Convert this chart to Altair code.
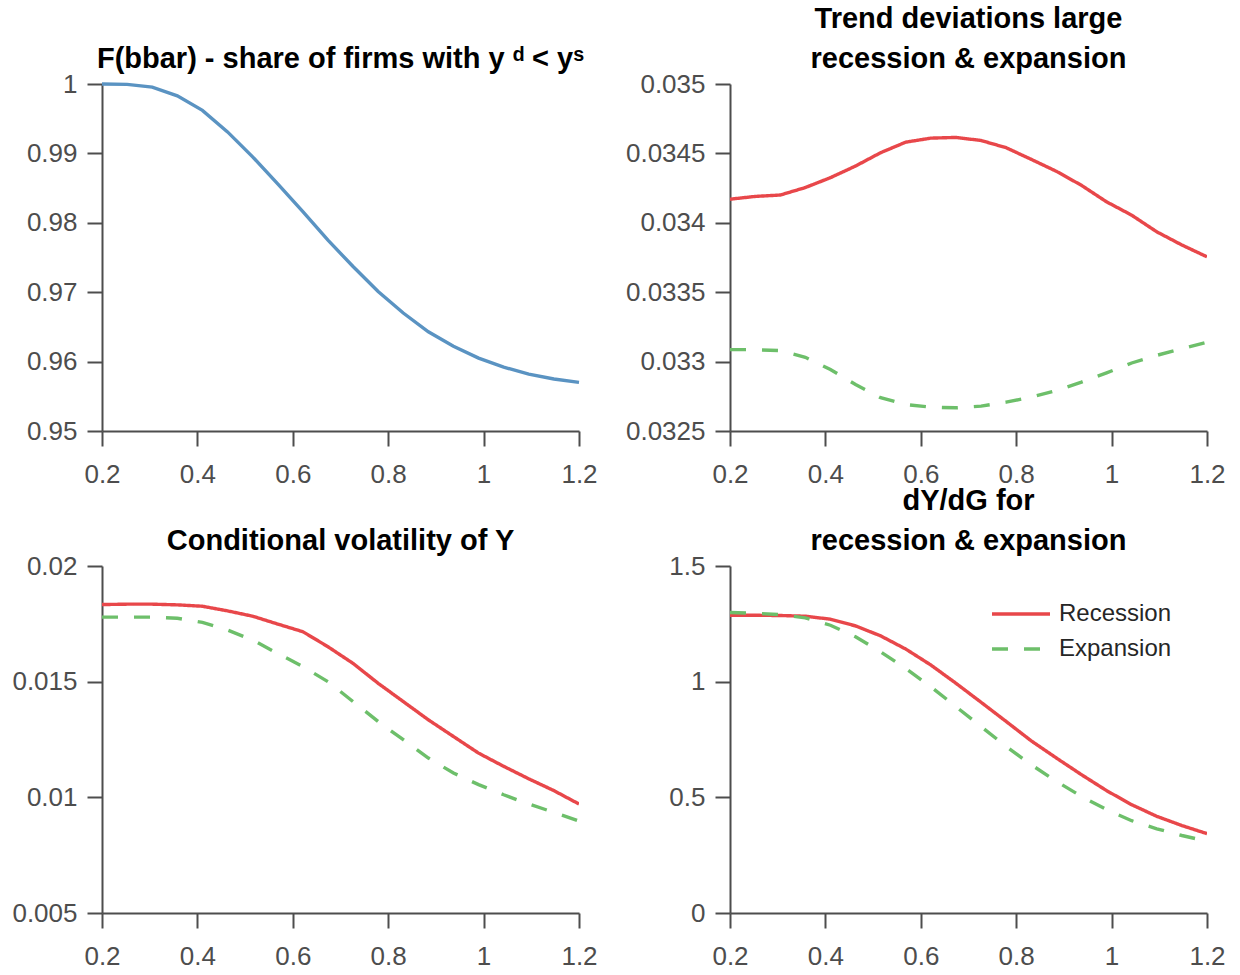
import altair as alt
import pandas as pd

# Grid of the parameter on the horizontal axis (20 points from 0.2 to 1.2)
x_grid = [0.2, 0.2526, 0.3053, 0.3579, 0.4105, 0.4632, 0.5158, 0.5684, 0.6211, 0.6737,
          0.7263, 0.7789, 0.8316, 0.8842, 0.9368, 0.9895, 1.0421, 1.0947, 1.1474, 1.2]

# F(bbar): share of firms with y^d < y^s
share_firms = [1.0, 0.99995, 0.99955, 0.9983, 0.9962, 0.9931, 0.9895, 0.9856, 0.9816, 0.9775,
               0.9737, 0.9701, 0.9670, 0.9643, 0.9622, 0.9605, 0.9592, 0.9582, 0.9575, 0.9570]

# Trend deviations, large recession & expansion
trend_rec = [0.03417, 0.03419, 0.03420, 0.034254, 0.034325, 0.034409, 0.034505, 0.034581, 0.03461, 0.034615,
             0.034593, 0.034541, 0.034457, 0.034371, 0.03427, 0.034151, 0.034055, 0.033935, 0.03384, 0.033755]
trend_exp = [0.033086, 0.033086, 0.033079, 0.033031, 0.032943, 0.032835, 0.03274, 0.032691, 0.032672, 0.032667,
             0.032679, 0.032708, 0.032744, 0.032792, 0.032852, 0.032919, 0.03299, 0.033045, 0.033093, 0.03314]

# Conditional volatility of Y
vol_rec = [0.018333, 0.01835, 0.01835, 0.01832, 0.01826, 0.01806, 0.01783, 0.01749, 0.01716, 0.01651,
           0.01579, 0.01493, 0.01414, 0.01335, 0.01263, 0.01191, 0.01134, 0.01080, 0.01029, 0.00971]
vol_exp = [0.01779, 0.01779, 0.01779, 0.01774, 0.01756, 0.01723, 0.01680, 0.01622, 0.01565, 0.01500,
           0.01414, 0.01328, 0.01249, 0.01170, 0.01105, 0.01055, 0.01011, 0.00971, 0.00935, 0.00897]

# dY/dG for recession & expansion
mult_rec = [1.287, 1.287, 1.286, 1.283, 1.270, 1.241, 1.198, 1.141, 1.072, 0.993,
            0.911, 0.828, 0.744, 0.670, 0.598, 0.529, 0.468, 0.418, 0.378, 0.343]
mult_exp = [1.299, 1.296, 1.290, 1.276, 1.244, 1.194, 1.129, 1.057, 0.978, 0.892,
            0.806, 0.720, 0.641, 0.569, 0.504, 0.447, 0.399, 0.364, 0.335, 0.310]

series_names = ["Recession", "Expansion"]
series_colors = ["#e8474a", "#6dbf6a"]
series_dashes = [[1, 0], [16, 16]]

x_ticks = [0.2, 0.4, 0.6, 0.8, 1.0, 1.2]

FONT = "Liberation Sans"
AXIS_COLOR = "#4d4d4d"
W, H = 477, 347
LINE_W = 3.4


def long_frame(rec, exp):
    return pd.DataFrame({
        "x": x_grid + x_grid,
        "y": rec + exp,
        "series": ["Recession"] * len(rec) + ["Expansion"] * len(exp),
    })


def x_enc():
    return alt.X("x:Q", scale=alt.Scale(domain=[0.2, 1.2], nice=False, zero=False),
                 axis=alt.Axis(values=x_ticks, format="~g", title=None,
                               labelFlush=False, labelOverlap=False))


def y_enc(domain, ticks):
    return alt.Y("y:Q", scale=alt.Scale(domain=domain, nice=False, zero=False),
                 axis=alt.Axis(values=ticks, format="~g", title=None,
                               labelFlush=False, labelOverlap=False))


def title(lines):
    return alt.TitleParams(lines, font=FONT, fontSize=29, fontWeight="bold", color="black",
                           anchor="middle", offset=-3, lineHeight=40)


def two_series(df, domain, ticks, ttl, legend=None):
    color_kw = {"legend": legend} if legend is not None else {"legend": None}
    return alt.Chart(df).mark_line(strokeWidth=LINE_W, clip=True).encode(
        x=x_enc(),
        y=y_enc(domain, ticks),
        color=alt.Color("series:N", sort=series_names,
                        scale=alt.Scale(domain=series_names, range=series_colors), **color_kw),
        strokeDash=alt.StrokeDash("series:N", sort=series_names,
                                  scale=alt.Scale(domain=series_names, range=series_dashes), **color_kw),
        detail="series:N",
    ).properties(width=W, height=H, title=title(ttl))


share_df = pd.DataFrame({"x": x_grid, "y": share_firms})
panel_share = alt.Chart(share_df).mark_line(strokeWidth=LINE_W, color="#5a93c2").encode(
    x=x_enc(),
    y=y_enc([0.95, 1.0], [0.95, 0.96, 0.97, 0.98, 0.99, 1.0]),
).properties(width=W, height=H,
             title=title("F(bbar) - share of firms with y \u1D48 < y\u02E2"))

panel_trend = two_series(long_frame(trend_rec, trend_exp), [0.0325, 0.035],
                         [0.0325, 0.033, 0.0335, 0.034, 0.0345, 0.035],
                         ["Trend deviations large", "recession & expansion"])

panel_vol = two_series(long_frame(vol_rec, vol_exp), [0.005, 0.02],
                       [0.005, 0.01, 0.015, 0.02],
                       "Conditional volatility of Y")

# Legend line samples: a long horizontal stroke ending just left of the label
legend = alt.Legend(title=None, orient="none", legendX=298, legendY=36, padding=0,
                    symbolType="M-4.8,0H1", symbolSize=400, symbolStrokeWidth=LINE_W,
                    symbolFillColor="transparent",
                    labelFont=FONT, labelFontSize=24, labelColor="#262626",
                    labelOffset=7, rowPadding=11)
panel_mult = two_series(long_frame(mult_rec, mult_exp), [0, 1.5],
                        [0, 0.5, 1, 1.5],
                        ["dY/dG for", "recession & expansion"], legend=legend)

indep = dict(color="independent", strokeDash="independent")
chart = alt.concat(panel_share, panel_trend, panel_vol, panel_mult,
                   columns=2, spacing={"row": 135, "column": 151}, bounds="flush"
                   ).resolve_scale(**indep).properties(
    padding={"left": 11, "top": 5, "right": 5, "bottom": 5},
    background="white",
).configure_view(stroke=None).configure_axis(
    grid=False,
    domainColor=AXIS_COLOR, domainWidth=2,
    tickColor=AXIS_COLOR, tickWidth=2, tickSize=15,
    labelFont=FONT, labelFontSize=26, labelColor=AXIS_COLOR,
).configure_axisX(labelPadding=15).configure_axisY(labelPadding=10)

chart.save("out.html", embed_options={"renderer": "svg", "actions": False})
